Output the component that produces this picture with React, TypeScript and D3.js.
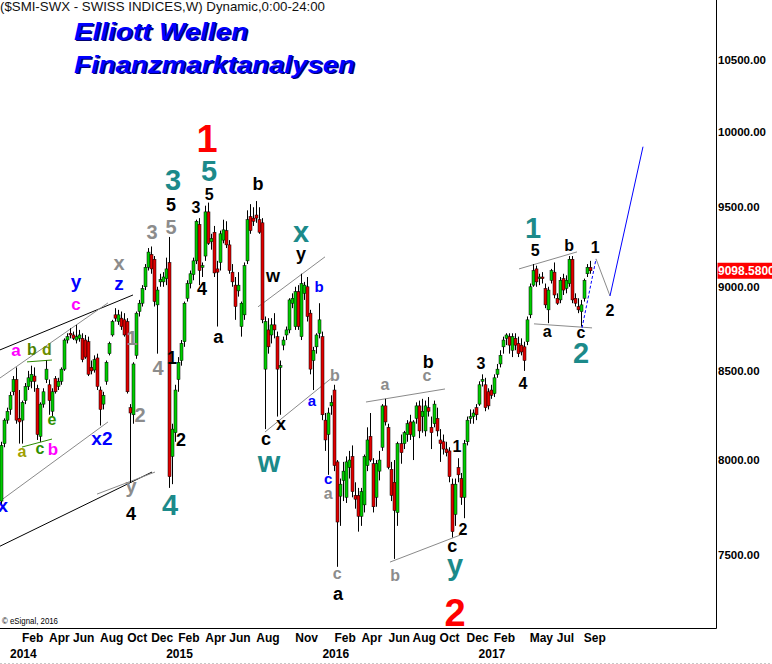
import React from "react";
import * as d3 from "d3";

// ---------- DATA ----------
const START = new Date(2013, 11, 16); // Monday of the first weekly bar
const WEEK_MS = 7 * 24 * 3600 * 1000;

// weekly [open, high, low, close]
const ohlc2014: number[][] = [
  [7780, 8100, 7760, 8080], [8090, 8230, 8070, 8220], [8220, 8290, 8200, 8270], [8280, 8380, 8250, 8360],
  [8380, 8470, 8360, 8450], [8450, 8520, 8200, 8220], [8230, 8390, 8090, 8210], [8220, 8330, 8090, 8320],
  [8330, 8430, 8310, 8410], [8410, 8500, 8390, 8460], [8440, 8530, 8400, 8480], [8470, 8520, 8380, 8440],
  [8400, 8420, 8110, 8140], [8130, 8320, 8100, 8310], [8310, 8400, 8290, 8380], [8450, 8560, 8430, 8510],
  [8420, 8450, 8250, 8330], [8270, 8400, 8240, 8380], [8455, 8470, 8370, 8380], [8410, 8460, 8390, 8440],
  [8440, 8520, 8420, 8510], [8510, 8690, 8500, 8680], [8680, 8720, 8660, 8700], [8720, 8750, 8690, 8710],
  [8710, 8730, 8680, 8690], [8680, 8770, 8660, 8700], [8690, 8740, 8670, 8710], [8690, 8720, 8550, 8565],
  [8680, 8710, 8570, 8580], [8670, 8700, 8470, 8480], [8520, 8560, 8480, 8500], [8505, 8590, 8490, 8565],
  [8575, 8600, 8390, 8410], [8390, 8410, 8190, 8280], [8310, 8380, 8280, 8360], [8440, 8560, 8420, 8550],
  [8600, 8670, 8590, 8660], [8710, 8800, 8700, 8790], [8830, 8870, 8790, 8810], [8790, 8860, 8770, 8830],
  [8810, 8850, 8740, 8760], [8800, 8840, 8700, 8710], [8790, 8810, 8370, 8380], [8290, 8310, 7880, 8260],
  [8250, 8550, 8200, 8540], [8590, 8850, 8570, 8840], [8850, 8920, 8820, 8900], [8900, 9010, 8880, 8990],
  [9000, 9140, 8980, 9120], [9120, 9240, 9100, 9215], [9200, 9250, 9080, 9110], [9170, 9190, 8880, 8910],
  [8890, 9000, 8600, 8980], [9030, 9080, 9000, 9045], [9030, 9090, 9000, 9060],
];
const ohlc2015: number[][] = [
  [9050, 9180, 9010, 9110], [9150, 9310, 7850, 7910], [8020, 8200, 7870, 8170], [8150, 8420, 8100, 8390],
  [8450, 8580, 8380, 8550], [8560, 8680, 8530, 8660], [8670, 8910, 8640, 8900], [8930, 9040, 8910, 9020],
  [9020, 9100, 8990, 9080], [9075, 9180, 9040, 9160], [9160, 9420, 9140, 9410], [9390, 9430, 9010, 9100],
  [9120, 9150, 9060, 9130], [9190, 9510, 9160, 9470], [9470, 9530, 9260, 9270], [9280, 9330, 9230, 9300],
  [9340, 9380, 9060, 9085], [9110, 9160, 8760, 9090], [9150, 9350, 9100, 9330], [9290, 9420, 9270, 9355],
  [9350, 9410, 9240, 9260], [9260, 9290, 9080, 9100], [9090, 9140, 9000, 9030], [9010, 9060, 8800, 8880],
  [8975, 9090, 8940, 9010], [8760, 8910, 8700, 8900], [8830, 9150, 8800, 9130], [9160, 9480, 9140, 9420],
  [9440, 9520, 9330, 9350], [9430, 9500, 9380, 9410], [9450, 9540, 9400, 9430], [9420, 9500, 9330, 9340],
  [9400, 9430, 8780, 8800], [8510, 8820, 8170, 8790], [8740, 8810, 8600, 8640], [8710, 8810, 8660, 8770],
  [8770, 8840, 8690, 8740], [8700, 8730, 8240, 8510], [8520, 8560, 8250, 8530], [8650, 8700, 8620, 8680],
  [8710, 8760, 8680, 8740], [8740, 8930, 8720, 8920], [8900, 8960, 8870, 8930], [8760, 9000, 8740, 8970],
  [8970, 9010, 8740, 8760], [8700, 9080, 8680, 9020], [8960, 9030, 8920, 9010], [9000, 9060, 8790, 8820],
  [8840, 8860, 8480, 8510], [8560, 8640, 8390, 8620], [8640, 8720, 8600, 8710], [8720, 8900, 8690, 8800],
];
const ohlc2016: number[][] = [
  [8700, 8730, 8220, 8250], [8220, 8260, 8050, 8110], [8140, 8290, 7920, 8260], [8300, 8360, 8250, 8320],
  [8390, 8420, 7940, 7970], [7990, 8000, 7440, 7670], [7806, 7900, 7650, 7870], [7890, 7990, 7780, 7940],
  [7800, 8020, 7770, 7990], [7960, 8050, 7900, 8000], [8020, 8080, 7800, 7830], [7810, 7880, 7740, 7790],
  [7810, 7850, 7620, 7700], [7700, 7850, 7650, 7830], [7760, 8030, 7720, 8020], [7970, 8180, 7940, 8110],
  [8130, 8260, 7990, 8000], [7980, 8010, 7720, 7750], [7800, 8000, 7750, 7980], [7940, 8050, 7890, 8000],
  [8070, 8310, 8050, 8300], [8300, 8340, 8190, 8210], [8180, 8200, 7950, 7960], [7950, 7990, 7780, 7810],
  [7880, 8000, 7480, 7730], [7720, 8100, 7650, 8090], [8090, 8140, 7980, 8040], [8090, 8160, 8060, 8150],
  [8140, 8220, 8100, 8200], [8210, 8250, 8110, 8140], [8130, 8220, 8000, 8210], [8230, 8320, 8200, 8300],
  [8300, 8330, 8120, 8160], [8240, 8340, 8150, 8270], [8160, 8330, 8130, 8300], [8290, 8350, 8240, 8270],
  [8180, 8240, 8060, 8150], [8200, 8330, 8180, 8310], [8230, 8290, 8130, 8160], [8110, 8170, 7990, 8090],
  [8100, 8140, 8030, 8060], [8060, 8100, 8020, 8040], [8050, 8070, 7880, 7910], [7870, 7900, 7590, 7620],
  [7710, 7900, 7650, 7870], [7960, 8010, 7880, 7920], [7900, 7930, 7760, 7800], [7800, 8110, 7690, 8090],
  [8100, 8240, 8080, 8220], [8230, 8280, 8200, 8240], [8240, 8280, 8200, 8260], [8290, 8310, 8220, 8250],
];
const ohlc2017: number[][] = [
  [8310, 8440, 8300, 8420], [8440, 8480, 8410, 8450], [8420, 8460, 8270, 8290], [8380, 8400, 8280, 8300],
  [8390, 8420, 8340, 8360], [8370, 8480, 8350, 8460], [8480, 8540, 8460, 8510], [8540, 8620, 8520, 8590],
  [8640, 8700, 8600, 8680], [8690, 8720, 8650, 8710], [8700, 8720, 8600, 8650], [8620, 8720, 8580, 8700],
  [8690, 8720, 8620, 8650], [8660, 8700, 8580, 8600], [8650, 8690, 8590, 8610], [8640, 8670, 8500, 8560],
  [8670, 8820, 8650, 8800], [8830, 9020, 8810, 9000], [9010, 9140, 9000, 9100], [9110, 9130, 9000, 9030],
  [9050, 9080, 9010, 9060], [9060, 9090, 9020, 9050], [8990, 9020, 8870, 8890], [8860, 9000, 8780, 8980],
  [9040, 9110, 9020, 9100], [9090, 9150, 8930, 8950], [8930, 8960, 8890, 8900], [8920, 9060, 8900, 9040],
  [9050, 9080, 8950, 8980], [8990, 9070, 8960, 9040], [9020, 9190, 9000, 9170], [9170, 9190, 8900, 8920],
  [8930, 8960, 8880, 8900], [8880, 8930, 8840, 8860], [8850, 8920, 8760, 8890], [8930, 9050, 8910, 9040],
  [9080, 9140, 9060, 9120], [9120, 9160, 9080, 9098.58],
];
const LAST_PRICE = 9098.58;

const priceTicks = [7500, 8000, 8500, 9000, 9500, 10000, 10500];

const monthTicks: [number, number, number, string][] = [
  [2014, 2, 3, "Feb"], [2014, 4, 7, "Apr"], [2014, 6, 2, "Jun"], [2014, 8, 4, "Aug"], [2014, 10, 6, "Oct"],
  [2014, 12, 1, "Dec"], [2015, 2, 2, "Feb"], [2015, 4, 6, "Apr"], [2015, 6, 1, "Jun"], [2015, 8, 3, "Aug"],
  [2015, 11, 2, "Nov"], [2016, 2, 1, "Feb"], [2016, 4, 4, "Apr"], [2016, 6, 6, "Jun"], [2016, 8, 1, "Aug"],
  [2016, 10, 3, "Oct"], [2016, 12, 5, "Dec"], [2017, 2, 6, "Feb"], [2017, 5, 1, "May"], [2017, 7, 3, "Jul"],
  [2017, 9, 4, "Sep"],
];
const yearTicks: [number, number, number, string][] = [
  [2014, 1, 6, "2014"], [2015, 1, 5, "2015"], [2016, 1, 4, "2016"], [2017, 1, 2, "2017"],
];

// wave labels: [text, week index, price, kind]
const waveLabels: [string, number, number, string][] = [
  ["1", 68.6, 9959, "red"], ["2", 151.2, 7214, "red"],
  ["3", 57.3, 9679, "teal"], ["5", 69.3, 9738, "teal"], ["x", 99.9, 9323, "teal"], ["w", 89.2, 7978, "teal"],
  ["4", 56.3, 7759, "teal"], ["y", 151.2, 7423, "teal"], ["1", 177.1, 9368, "teal"], ["2", 193.1, 8604, "teal"],
  ["5", 56.6, 9516, "black"], ["3", 64.9, 9503, "blackSm"], ["5", 69.3, 9587, "blackSm"], ["b", 85.6, 9652, "black"],
  ["4", 66.9, 8987, "black"], ["a", 72.3, 8692, "black"], ["w", 90.6, 9061, "black"], ["y", 99.9, 9185, "black"],
  ["x", 93.2, 8193, "black"], ["c", 88.2, 8110, "black"], ["1", 56.9, 8575, "black"], ["2", 59.9, 8115, "black"],
  ["4", 43.3, 7717, "black"], ["a", 112.2, 7298, "black"], ["b", 142.2, 8557, "black"], ["1", 151.8, 8076, "blackSm"],
  ["2", 153.8, 7633, "blackSm"], ["c", 150.2, 7540, "black"], ["3", 159.8, 8546, "blackSm"], ["4", 173.8, 8430, "blackSm"],
  ["5", 177.8, 9229, "blackSm"], ["b", 189.1, 9260, "blackSm"], ["1", 197.8, 9248, "blackSm"], ["a", 181.8, 8722, "blackSm"],
  ["c", 193.1, 8716, "blackSm"], ["2", 202.7, 8860, "blackSm"],
  ["x", 39.3, 9135, "gray"], ["3", 50.3, 9342, "gray"], ["5", 56.6, 9374, "gray"], ["1", 43.6, 8692, "gray"],
  ["4", 52.3, 8517, "gray"], ["2", 46.3, 8249, "gray"], ["y", 43.3, 7838, "gray"],
  ["b", 111.2, 8476, "graySm"], ["a", 108.9, 7812, "graySm"], ["c", 111.9, 7398, "graySm"], ["b", 131.2, 7398, "graySm"],
  ["a", 127.8, 8413, "graySm"], ["c", 141.8, 8465, "graySm"],
  ["y", 25.0, 9012, "blue"], ["z", 39.3, 9012, "blue"], ["x2", 33.6, 8121, "blue"], ["x", 0.6, 7748, "blue"],
  ["b", 105.9, 8999, "blueSm"], ["a", 103.5, 8322, "blueSm"], ["c", 108.9, 7892, "blueSm"],
  ["c", 25.0, 8884, "magenta"], ["a", 5.0, 8610, "magenta"], ["b", 17.3, 8060, "magenta"],
  ["b", 10.3, 8628, "oliveB"], ["d", 15.3, 8628, "oliveD"], ["a", 7.0, 8038, "yellow"], ["c", 13.0, 8055, "green"],
  ["e", 17.0, 8215, "green"],
];

// trend / projection lines: [week1, price1, week2, price2, kind]
const trendLines: [number, number, number, number, string][] = [
  [-0.32, 8622, 43.95, 8950, "black"],
  [-0.32, 8459, 35.63, 8902, "gray"],
  [-0.32, 7545, 50.28, 7935, "black"],
  [-0.32, 7780, 35.63, 8210, "gray"],
  [31.97, 7817, 51.28, 7935, "gray"],
  [8.67, 8552, 16.99, 8563, "green"],
  [7.0, 8071, 16.99, 8115, "green"],
  [85.56, 8878, 107.87, 9185, "gray"],
  [87.89, 8154, 110.53, 8465, "gray"],
  [121.51, 8322, 147.81, 8396, "gray"],
  [129.5, 7464, 152.81, 7602, "gray"],
  [172.45, 9110, 191.76, 9216, "gray"],
  [177.44, 8776, 196.76, 8752, "gray"],
  [193.43, 8752, 198.09, 9172, "blueDash"],
  [198.09, 9172, 202.74, 8944, "gray"],
  [202.74, 8944, 213.73, 9899, "blue"],
];

// ---------- STYLES ----------
const FONT = "'Liberation Sans', Arial, Helvetica, sans-serif";
const labelStyle: Record<string, { fill: string; size: number }> = {
  red: { fill: "#ff0000", size: 38 },
  teal: { fill: "#1c8a8a", size: 29 },
  black: { fill: "#000000", size: 18 },
  blackSm: { fill: "#000000", size: 16 },
  gray: { fill: "#8c8c8c", size: 20 },
  graySm: { fill: "#8c8c8c", size: 16 },
  blue: { fill: "#0000ff", size: 19 },
  blueSm: { fill: "#0000ff", size: 15 },
  magenta: { fill: "#ff00ff", size: 17 },
  oliveB: { fill: "#4d8000", size: 16 },
  oliveD: { fill: "#6b8e00", size: 16 },
  yellow: { fill: "#a0a000", size: 16 },
  green: { fill: "#2e9000", size: 16 },
};
const lineStyle: Record<string, { stroke: string; dash?: string }> = {
  black: { stroke: "#000000" },
  gray: { stroke: "#8a8a8a" },
  green: { stroke: "#2e8b00" },
  blue: { stroke: "#0000ff" },
  blueDash: { stroke: "#0000ff", dash: "3,2" },
};

function weekIndex(y: number, m: number, d: number) {
  return Math.round((new Date(y, m - 1, d).getTime() - START.getTime()) / WEEK_MS);
}
function baselineShift(t: string) {
  if (t === "y") return 0.16;
  if (/^[acemnorsuvwxz]+$/.test(t)) return 0.26;
  return 0.36;
}

export default function App() {
  const candles = [...ohlc2014, ...ohlc2015, ...ohlc2016, ...ohlc2017].map((d, i) => ({
    i, o: d[0], h: d[1], l: d[2], c: d[3],
  }));
  const n = candles.length - 1;
  const x = d3.scaleLinear().domain([0, n]).range([0.97, 0.97 + n * 3.004]);
  const y = d3.scaleLog().domain([7500, 10500]).range([555, 60]);
  const fmt = d3.format(".2f");
  const plotR = 716.5;
  const plotB = 628.5;

  return (
    <svg
      width={772}
      height={664}
      style={{ position: "absolute", left: 0, top: 0, background: "#fff" }}
      fontFamily={FONT}
    >
      <defs>
        <clipPath id="plotClip">
          <rect x={0} y={0} width={plotR} height={plotB} />
        </clipPath>
      </defs>
      <rect x={0} y={0} width={772} height={664} fill="#fff" />

      <g clipPath="url(#plotClip)">
        {trendLines.map((l, k) => {
          const st = lineStyle[l[4]];
          return (
            <line key={"tl" + k} x1={x(l[0])} y1={y(l[1])} x2={x(l[2])} y2={y(l[3])}
              stroke={st.stroke} strokeWidth={1} strokeDasharray={st.dash} />
          );
        })}
        {candles.map((d) => {
          const cx = Math.round(x(d.i)) + 0.5;
          const up = d.c >= d.o;
          const top = y(Math.max(d.o, d.c));
          const bot = y(Math.min(d.o, d.c));
          return (
            <g key={"c" + d.i}>
              <line x1={cx} x2={cx} y1={y(d.h)} y2={y(d.l)} stroke="#000" strokeWidth={1} />
              <rect x={cx - 1.5} y={top} width={3} height={Math.max(1, bot - top)}
                fill={up ? "#00cc00" : "#e00000"} stroke="#000" strokeWidth={0.5} />
            </g>
          );
        })}
        {waveLabels.map((l, k) => {
          const st = labelStyle[l[3]];
          return (
            <text key={"wl" + k} x={x(l[1])} y={y(l[2]) + baselineShift(l[0]) * st.size}
              textAnchor="middle" fontWeight="bold" fontSize={st.size} fill={st.fill}>
              {l[0]}
            </text>
          );
        })}
        <text x={2} y={624} fontSize={8.5} fill="#000" textLength={56} lengthAdjust="spacingAndGlyphs">
          © eSignal, 2016
        </text>
      </g>

      {/* frame */}
      <line x1={plotR} x2={plotR} y1={0} y2={plotB} stroke="#000" strokeWidth={1} />
      <line x1={0} x2={plotR} y1={plotB} y2={plotB} stroke="#000" strokeWidth={1} />
      <line x1={0} x2={772} y1={663.5} y2={663.5} stroke="#c8c8c8" strokeWidth={1} strokeDasharray="2,2" />

      {/* price axis */}
      {priceTicks.map((v) => (
        <text key={"pt" + v} x={718} y={y(v)} dominantBaseline="central" fontSize={11.5}
          fontWeight="bold" fill="#000">
          {fmt(v)}
        </text>
      ))}
      <rect x={717.5} y={y(LAST_PRICE) - 8} width={60} height={16} fill="#ff0000" />
      <text x={718} y={y(LAST_PRICE)} dominantBaseline="central" fontSize={12} fontWeight="bold" fill="#fff">
        {d3.format(".4f")(LAST_PRICE)}
      </text>

      {/* time axis */}
      {monthTicks.map((t, k) => (
        <text key={"mt" + k} x={x(weekIndex(t[0], t[1], t[2]))} y={642} fontSize={12} fontWeight="bold" fill="#000">
          {t[3]}
        </text>
      ))}
      {yearTicks.map((t, k) => (
        <text key={"yt" + k} x={x(weekIndex(t[0], t[1], t[2]))} y={658} fontSize={12} fontWeight="bold" fill="#000">
          {t[3]}
        </text>
      ))}

      {/* titles */}
      <text x={0} y={11} fontSize={13} fill="#111" textLength={325} lengthAdjust="spacingAndGlyphs">
        ($SMI-SWX - SWISS INDICES,W) Dynamic,0:00-24:00
      </text>
      {[
        ["Elliott Wellen", 39.5, 174],
        ["Finanzmarktanalysen", 72.5, 281],
      ].map(([t, by, w], k) => (
        <g key={"tt" + k}>
          <text x={75.5} y={(by as number) + 1.5} fontSize={23} fontWeight="bold" fontStyle="italic"
            fill="#000070" textLength={w as number} lengthAdjust="spacingAndGlyphs">{t}</text>
          <text x={74} y={by as number} fontSize={23} fontWeight="bold" fontStyle="italic"
            fill="#0000ff" textLength={w as number} lengthAdjust="spacingAndGlyphs">{t}</text>
        </g>
      ))}
    </svg>
  );
}
